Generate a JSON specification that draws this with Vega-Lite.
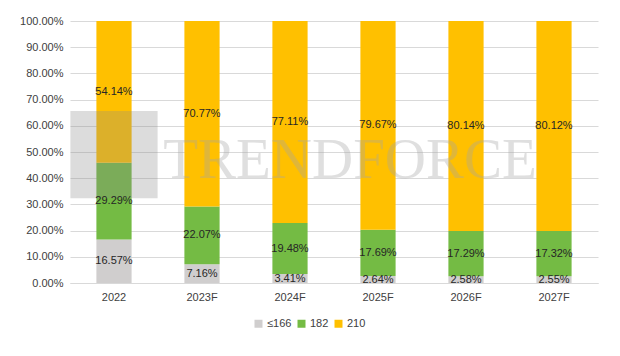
{
  "$schema": "https://vega.github.io/schema/vega-lite/v6.json",
  "width": 528,
  "height": 262,
  "autosize": "none",
  "padding": {"left": 70, "top": 21, "right": 22, "bottom": 73},
  "background": "white",
  "data": {"values": [
    {"year": "2022", "size": "≤166", "order": 1, "v": 0.1657},
    {"year": "2022", "size": "182", "order": 2, "v": 0.2929},
    {"year": "2022", "size": "210", "order": 3, "v": 0.5414},
    {"year": "2023F", "size": "≤166", "order": 1, "v": 0.0716},
    {"year": "2023F", "size": "182", "order": 2, "v": 0.2207},
    {"year": "2023F", "size": "210", "order": 3, "v": 0.7077},
    {"year": "2024F", "size": "≤166", "order": 1, "v": 0.0341},
    {"year": "2024F", "size": "182", "order": 2, "v": 0.1948},
    {"year": "2024F", "size": "210", "order": 3, "v": 0.7711},
    {"year": "2025F", "size": "≤166", "order": 1, "v": 0.0264},
    {"year": "2025F", "size": "182", "order": 2, "v": 0.1769},
    {"year": "2025F", "size": "210", "order": 3, "v": 0.7967},
    {"year": "2026F", "size": "≤166", "order": 1, "v": 0.0258},
    {"year": "2026F", "size": "182", "order": 2, "v": 0.1729},
    {"year": "2026F", "size": "210", "order": 3, "v": 0.8014},
    {"year": "2027F", "size": "≤166", "order": 1, "v": 0.0255},
    {"year": "2027F", "size": "182", "order": 2, "v": 0.1732},
    {"year": "2027F", "size": "210", "order": 3, "v": 0.8012}
  ]},
  "encoding": {
    "x": {
      "field": "year", "type": "nominal", "sort": null, "title": null,
      "scale": {"domain": ["2022", "2023F", "2024F", "2025F", "2026F", "2027F"], "paddingInner": 0.6, "paddingOuter": 0.3},
      "axis": {"labelAngle": 0, "ticks": false, "domainColor": "#d9d9d9", "labelColor": "#404040", "labelFontSize": 11, "labelFont": "Liberation Sans", "labelPadding": 8}
    }
  },
  "layer": [
    {
      "transform": [
        {"stack": "v", "groupby": ["year"], "sort": [{"field": "order"}], "as": ["v0", "v1"], "offset": "normalize"}
      ],
      "mark": {"type": "bar"},
      "encoding": {
        "y": {
          "field": "v0", "type": "quantitative", "title": null,
          "scale": {"domain": [0, 1], "nice": false},
          "axis": {"values": [0, 0.1, 0.2, 0.3, 0.4, 0.5, 0.6, 0.7, 0.8, 0.9, 1]}
        },
        "y2": {"field": "v1"},
        "color": {
          "field": "size", "type": "nominal", "sort": ["≤166", "182", "210"],
          "scale": {"domain": ["≤166", "182", "210"], "range": ["#d0cece", "#74bb44", "#ffc000"]},
          "legend": {"title": null, "orient": "none", "direction": "horizontal", "legendX": 183, "legendY": 297, "symbolType": "square", "symbolSize": 64, "symbolStrokeWidth": 0, "labelFontSize": 11, "labelFont": "Liberation Sans", "labelColor": "#404040", "columnPadding": 4, "labelOffset": 3}
        }
      }
    },
    {
      "data": {"values": [{"x": "2022", "y": 0.49}]},
      "mark": {"type": "point", "shape": "square", "filled": true, "size": 7600, "color": "#8c8c8c", "opacity": 0.3, "dx": -4},
      "encoding": {
        "x": {"field": "x", "type": "nominal"},
        "y": {"field": "y", "type": "quantitative", "axis": {"values": [0, 0.1, 0.2, 0.3, 0.4, 0.5, 0.6, 0.7, 0.8, 0.9, 1]}}
      }
    },
    {
      "data": {"values": [{"w": "TRENDFORCE", "x": "2025F", "y": 0.40}]},
      "mark": {"type": "text", "font": "Liberation Serif", "fontSize": 57, "color": "#a6a6a6", "opacity": 0.35, "dx": -28, "baseline": "alphabetic"},
      "encoding": {
        "x": {"field": "x", "type": "nominal"},
        "y": {"field": "y", "type": "quantitative", "axis": {"values": [0, 0.1, 0.2, 0.3, 0.4, 0.5, 0.6, 0.7, 0.8, 0.9, 1]}},
        "text": {"field": "w"}
      }
    },
    {
      "transform": [
        {"stack": "v", "groupby": ["year"], "sort": [{"field": "order"}], "as": ["v0", "v1"], "offset": "normalize"},
        {"calculate": "(datum.v0 + datum.v1) / 2", "as": "mid"}
      ],
      "mark": {"type": "text", "fontSize": 11, "font": "Liberation Sans", "color": "#262626"},
      "encoding": {
        "y": {"field": "mid", "type": "quantitative", "axis": {"values": [0, 0.1, 0.2, 0.3, 0.4, 0.5, 0.6, 0.7, 0.8, 0.9, 1]}},
        "text": {"field": "v", "type": "quantitative", "format": ".2%"}
      }
    }
  ],
  "config": {
    "view": {"stroke": null},
    "axisY": {"format": ".2%", "labelOverlap": false, "domain": false, "ticks": false, "gridColor": "#d9d9d9", "labelColor": "#404040", "labelFontSize": 11, "labelFont": "Liberation Sans", "labelPadding": 7}
  }
}
